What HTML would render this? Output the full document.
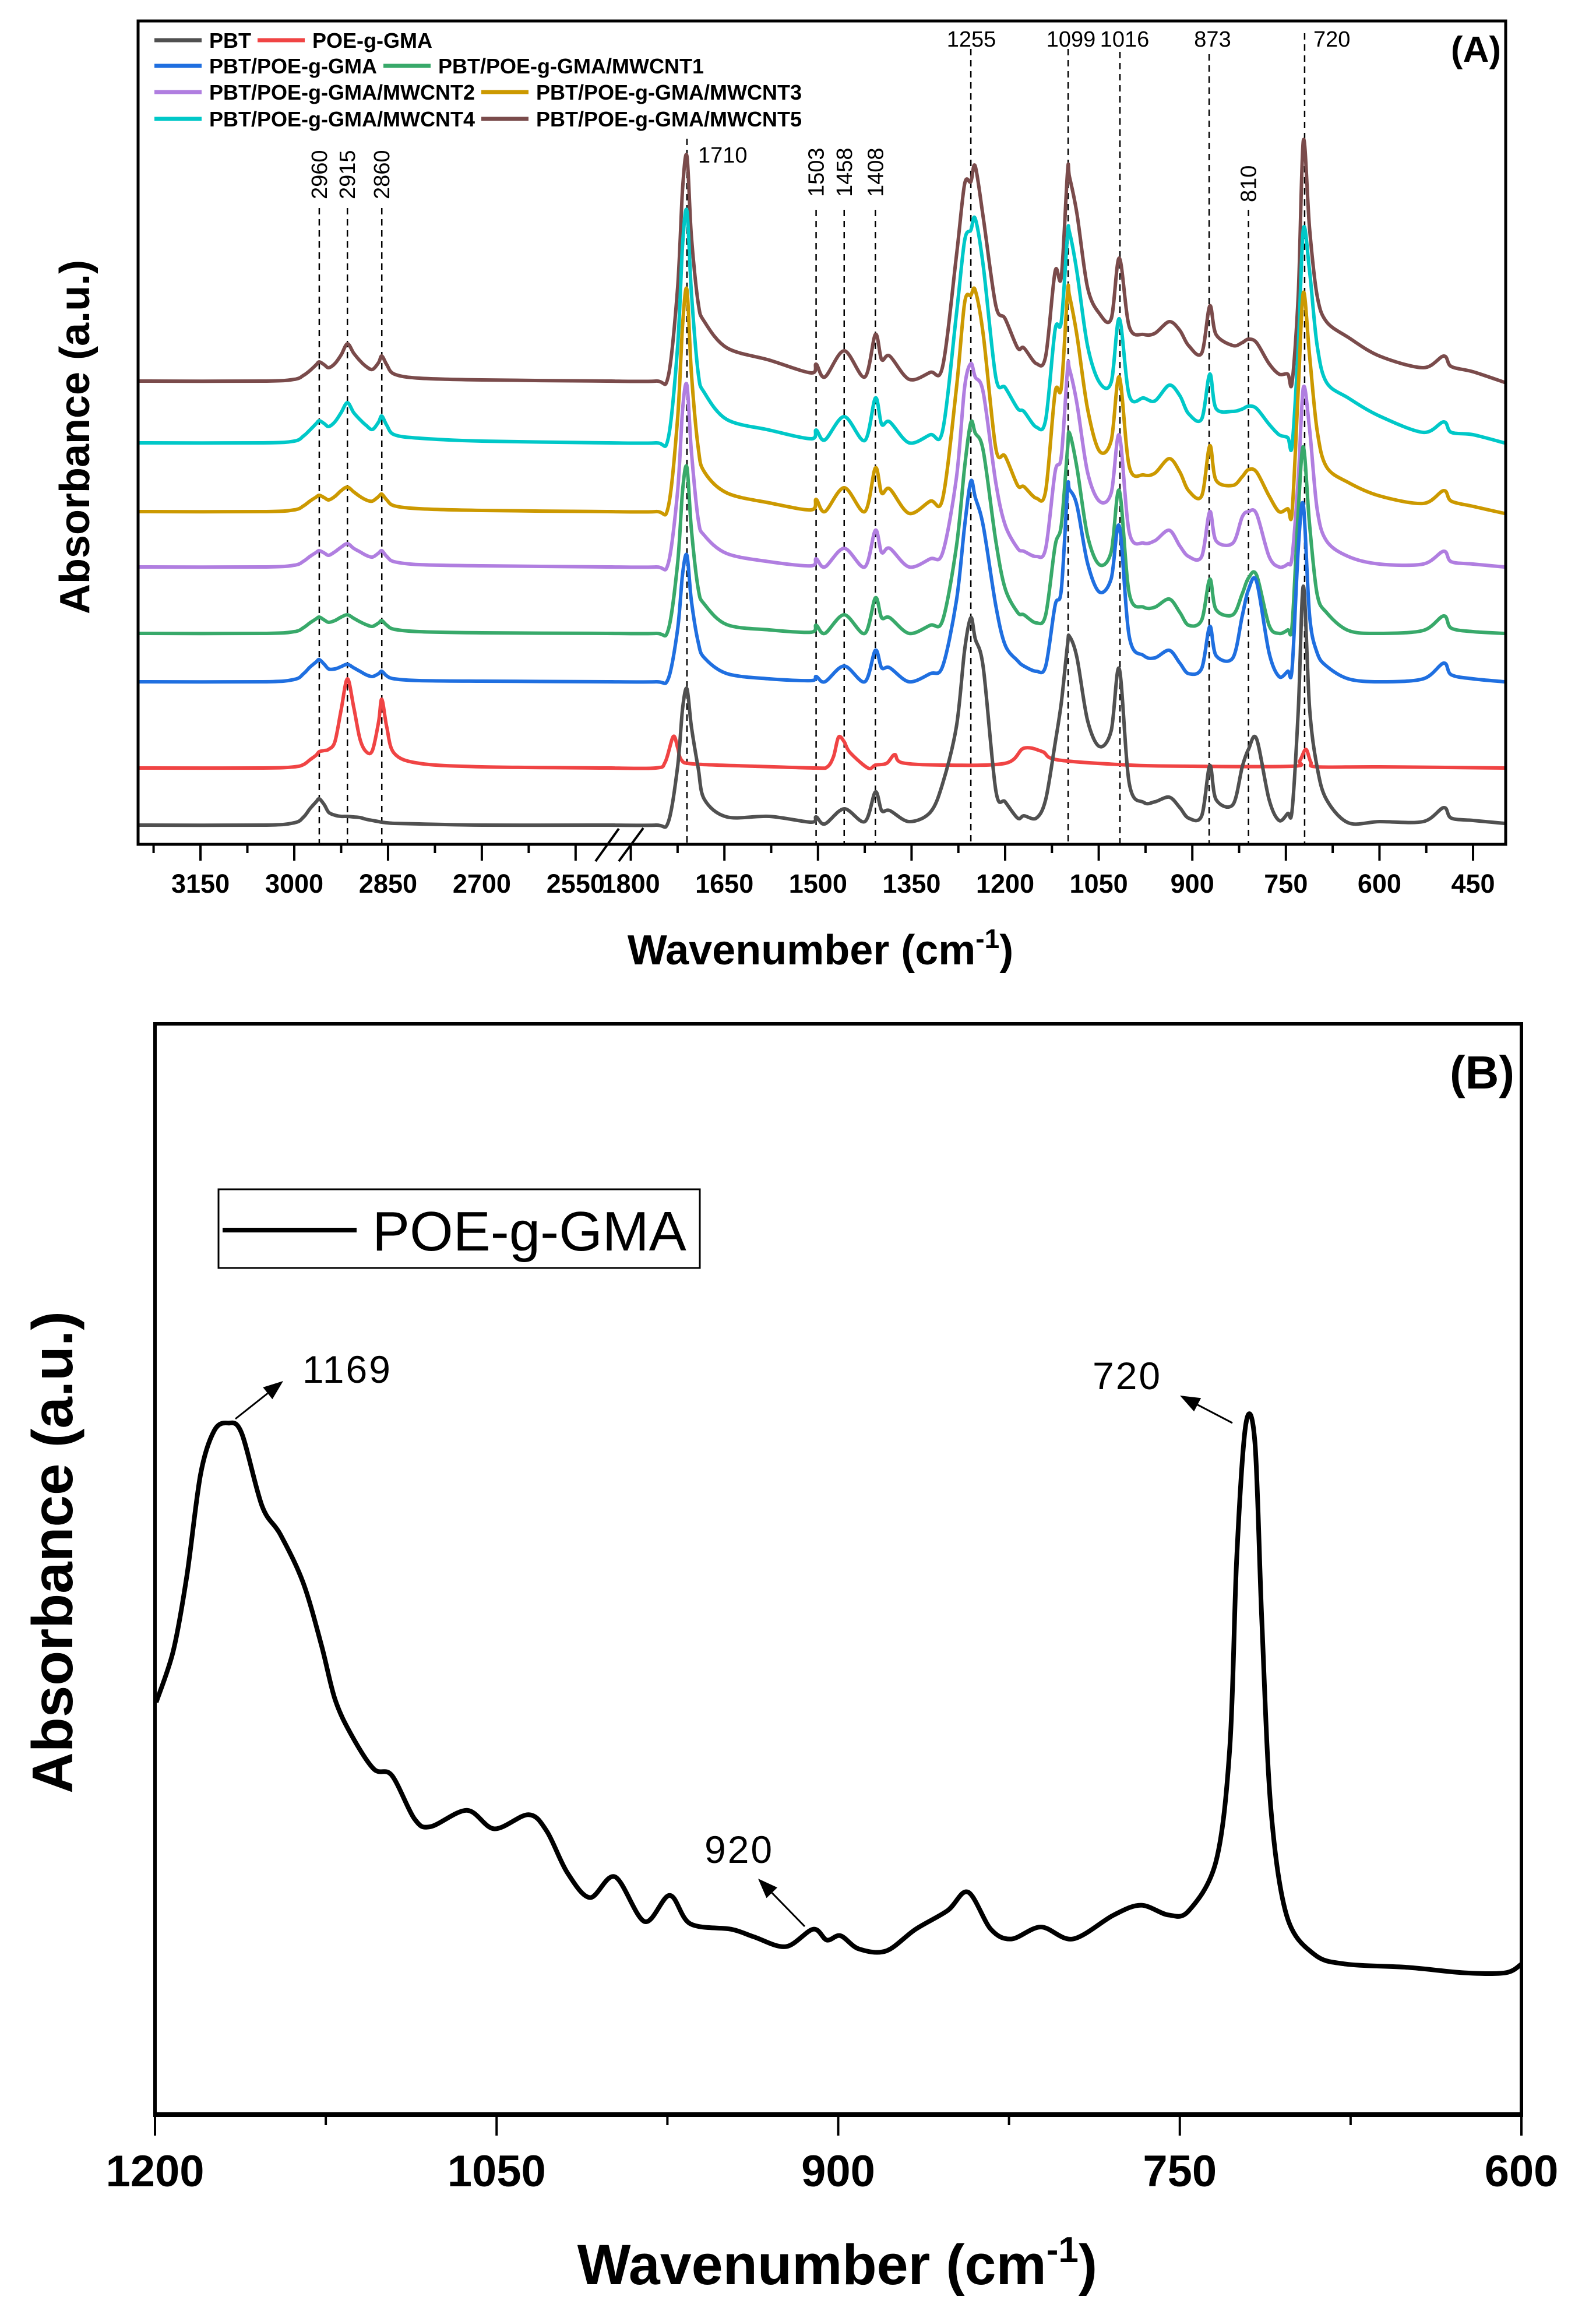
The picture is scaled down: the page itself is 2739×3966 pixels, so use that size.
<!DOCTYPE html>
<html><head><meta charset="utf-8"><style>
html,body{margin:0;padding:0;background:#fff}
svg{display:block}
text{font-family:"Liberation Sans",Arial,sans-serif}
</style></head><body>
<svg id="chart" width="2739" height="3966" viewBox="0 0 2739 3966" xmlns="http://www.w3.org/2000/svg">
<rect width="2739" height="3966" fill="#fff"/>
<g id="panelA"></g>
<g id="panelB"></g>
</svg>
<script>
// ---------- Panel A data ----------
const seriesNames = ["PBT","POE-g-GMA","PBT/POE-g-GMA","PBT/POE-g-GMA/MWCNT1","PBT/POE-g-GMA/MWCNT2","PBT/POE-g-GMA/MWCNT3","PBT/POE-g-GMA/MWCNT4","PBT/POE-g-GMA/MWCNT5"];
const seriesColors = ["#505050","#f04444","#1f6fe0","#38a96a","#b07ee0","#cc9900","#00c8c8","#7a4b4b"];
const leftWaves = [3250,3050,3000,2985,2975,2965,2960,2952,2945,2935,2925,2915,2905,2895,2885,2875,2865,2860,2852,2840,2800,2700,2500];
const rightWaves = [1835,1760,1740,1725,1717,1710,1703,1692,1682,1646,1578,1511,1503,1489,1458,1425,1408,1398,1385,1354,1320,1300,1278,1265,1255,1248,1235,1215,1200,1180,1170,1150,1135,1120,1110,1100,1097,1085,1068,1049,1030,1017,1001,978,960,937,920,906,885,872,862,835,820,810,797,777,761,747,740,730,722,712,700,685,650,600,530,497,485,450,400];
const redRightWaves = [1835,1760,1745,1732,1725,1719,1700,1600,1503,1485,1475,1467,1458,1449,1420,1408,1390,1377,1365,1300,1200,1170,1140,1116,1000,900,740,728,718,710,700,600,400];

const pbtLeft = [0,0,4,14,28,40,45,35,22,17,15,15,14,13,10,8,6,5,4,3,2,0,0];
const pbtRight = [0,0,5,100,200,234,170,98,44,14,15,5,14,2,28,6,57,25,25,6,22,72,170,300,356,320,270,60,40,12,16,12,44,140,210,310,324,288,180,135,162,268,71,39,40,48,30,12,16,102,44,35,100,130,148,44,8,20,26,200,410,200,100,44,4,6,6,30,12,8,3];
const poeLeft = [0,0,2,6,14,22,28,30,32,45,100,153,105,50,28,30,80,118,70,25,8,2,0];
const poeRight = [0,0,10,54,35,14,7,3,0,2,20,53,45,27,0,5,8,23,9,5,8,34,28,14,5,3,3,12,32,10,2,2,0];
const blendLeft = [0,0,4,14,25,34,38,30,22,22,26,30,24,18,12,9,14,18,10,5,2,1,0];
const blendRight = [0,0,5,90,185,217,140,68,41,14,5,2,9,0,27,0,54,24,24,0,14,27,140,267,344,317,267,131,63,36,27,18,27,131,158,330,330,303,204,154,177,267,77,45,41,54,32,14,23,95,45,41,113,158,172,50,9,18,23,231,303,113,50,27,5,0,5,32,12,5,0];
const cnt1Left = [0,0,3,10,18,25,28,23,19,22,28,32,26,20,15,12,18,22,14,7,3,1,0];
const cnt1Right = [0,0,6,120,245,285,180,77,50,15,6,2,14,0,32,0,61,27,27,0,14,23,150,285,362,344,313,159,77,36,32,18,32,150,186,317,344,285,168,118,140,245,68,45,45,59,36,14,23,93,41,32,68,95,100,14,0,6,14,213,320,186,68,36,5,0,5,30,9,3,0];
const cnt2Left = [0,0,3,10,18,25,28,24,20,26,34,40,32,26,20,17,24,28,18,9,4,2,0];
const cnt2Right = [0,0,6,130,270,312,200,82,54,23,9,2,14,0,32,0,63,25,32,0,14,25,154,308,349,326,299,145,72,32,27,18,32,163,190,340,340,281,163,113,127,226,59,41,45,63,36,18,18,95,45,41,86,95,91,18,0,5,18,154,308,236,100,45,18,5,5,27,9,5,0];
const cnt3Left = [0,0,3,10,18,25,28,24,20,26,36,42,34,26,20,18,26,30,20,10,5,2,0];
const cnt3Right = [0,0,8,160,320,381,240,110,68,32,15,3,21,0,41,0,75,32,39,-3,18,23,213,358,371,380,303,109,95,45,43,23,36,204,213,376,371,303,177,104,122,231,77,63,66,91,68,36,27,113,54,45,60,72,68,27,0,5,0,213,376,267,140,77,50,27,14,36,18,9,-3];
const cnt4Left = [0,0,3,12,22,33,38,33,28,36,52,69,52,40,30,23,36,46,30,14,8,3,0];
const cnt4Right = [0,0,8,165,340,398,260,120,86,40,22,7,22,5,45,4,77,32,36,0,14,22,222,347,365,385,303,113,95,59,54,27,40,194,208,357,362,294,167,104,104,213,81,77,72,99,81,50,41,118,59,54,58,63,59,32,14,9,-4,168,367,294,168,104,77,46,18,36,18,14,0];
const cnt5Left = [0,0,3,10,18,28,33,28,23,30,45,64,48,35,25,20,32,43,28,12,5,2,0];
const cnt5Right = [0,0,8,160,330,386,250,134,102,57,36,14,29,7,52,7,80,37,43,3,15,26,216,338,342,369,280,130,107,57,57,30,43,188,179,360,351,288,161,116,107,211,93,80,82,102,87,61,48,129,80,61,66,72,66,30,12,12,-2,152,413,261,147,102,75,43,23,43,25,16,-2];
const seriesOffsets = [0,98,246,329,443,538,656,762]; // vertical stacking offsets (a.u.)
const ticksAMajorLeft = [3150,3000,2850,2700,2550];
const ticksAMinorLeft = [3225,3075,2925,2775,2625];
const ticksAMajorRight = [1800,1650,1500,1350,1200,1050,900,750,600,450];
const ticksAMinorRight = [1725,1575,1425,1275,1125,975,825,675,525];
const markerRot = [2960,2915,2860,1503,1458,1408,810];
const markerHoriz = [1710,1255,1099,1016,873,720];

// ---------- Panel B data ----------
const bWaves = [1199.5,1192,1186,1180,1174,1168,1162,1153,1145,1135,1127,1121,1114,1104,1096,1086,1079,1063,1051,1036,1028,1019,1009,998,985,974,965,947,937,923,911,905,899,891,879,866,852,843,833,824,811,797,779,767,755,746,734,728,725,721,717,714,710,703,691,677,650,625,607,600];
const bAbs = [37.8,42.5,49.4,58.7,62.7,63.4,62.5,55.8,53.2,48.8,43.1,38.1,34.9,31.7,31.1,27.1,26.4,27.9,26.2,27.5,26.0,22.2,19.9,21.8,17.7,20.1,17.5,17.0,16.3,15.4,17.0,16.0,16.4,15.2,15.0,17.0,18.7,20.4,17.0,16.1,17.2,16.1,18.3,19.2,18.3,18.7,23.3,33.8,51.1,63.3,61.6,45.4,28.0,18.2,14.7,13.8,13.5,13.0,13.0,13.8];
const ticksBMajor = [1200,1050,900,750,600];
const ticksBMinor = [1125,975,825,675];

// ---------- helpers ----------
const NS = "http://www.w3.org/2000/svg";
function mk(parent, tag, attrs, txt){
  const el = document.createElementNS(NS, tag);
  for (const k in attrs) el.setAttribute(k, attrs[k]);
  if (txt !== undefined) el.textContent = txt;
  parent.appendChild(el);
  return el;
}
function smoothPath(pts){
  let d = "M" + pts[0][0].toFixed(1) + "," + pts[0][1].toFixed(1);
  for (let i = 0; i < pts.length - 1; i++){
    const p0 = pts[Math.max(0,i-1)], p1 = pts[i], p2 = pts[i+1], p3 = pts[Math.min(pts.length-1,i+2)];
    const t = 0.16;
    const c1x = p1[0] + (p2[0]-p0[0])*t, c1y = p1[1] + (p2[1]-p0[1])*t;
    const c2x = p2[0] - (p3[0]-p1[0])*t, c2y = p2[1] - (p3[1]-p1[1])*t;
    d += " C" + c1x.toFixed(1) + "," + c1y.toFixed(1) + " " + c2x.toFixed(1) + "," + c2y.toFixed(1) + " " + p2[0].toFixed(1) + "," + p2[1].toFixed(1);
  }
  return d;
}

// ---------- Panel A ----------
const A = {L:237, R:2584, T:36, B:1449, base:1416};
function xA(w){ return w >= 2200 ? 505 + (3000 - w) * 1.073 : 1725 + (1200 - w) * 1.0707; }
function yA(h, off){ return A.base - off - h; }
const gA = document.getElementById("panelA");

const markerTops = {2960:357,2915:357,2860:357,1710:238,1503:360,1458:360,1408:360,1255:84,1099:84,1016:89,873:93,810:360,720:57};
[...markerRot, ...markerHoriz].forEach(w => {
  const l = mk(gA, "line", {x1:xA(w), x2:xA(w), y1:markerTops[w], y2:A.B, stroke:"#000", "stroke-width":2.5, "stroke-dasharray":"11,8"});
  
  
});
markerRot.forEach(w => {
  const by = (w === 810) ? 347 : (w > 2500 ? 342 : 338);
  const t = mk(gA, "text", {x:0, y:0, transform:"translate(" + (xA(w)+13) + "," + by + ") rotate(-90)", "font-size":38, fill:"#000"}, String(w));
  
  
});
const horizPos = {1710:[1198,279,"start"],1255:[1667,80,"middle"],1099:[1838,80,"middle"],1016:[1930,80,"middle"],873:[2081,80,"middle"],720:[2254,80,"start"]};
markerHoriz.forEach(w => {
  const p = horizPos[w];
  const t = mk(gA, "text", {x:p[0], y:p[1], "font-size":38, "text-anchor":p[2], fill:"#000"}, String(w));
  
  
});

const leftData = [pbtLeft, poeLeft, blendLeft, cnt1Left, cnt2Left, cnt3Left, cnt4Left, cnt5Left];
const rightData = [pbtRight, poeRight, blendRight, cnt1Right, cnt2Right, cnt3Right, cnt4Right, cnt5Right];
const clip = mk(gA, "clipPath", {id:"clipA"});
mk(clip, "rect", {x:A.L, y:A.T, width:A.R-A.L, height:A.B-A.T});
const seriesG = mk(gA, "g", {"clip-path":"url(#clipA)"});
for (let s = 7; s >= 0; s--){
  const rw = (s === 1) ? redRightWaves : rightWaves;
  const pts = [];
  leftWaves.forEach((w,i) => pts.push([xA(w), yA(leftData[s][i], seriesOffsets[s])]));
  rw.forEach((w,i) => pts.push([xA(w), yA(rightData[s][i], seriesOffsets[s])]));
  const p = mk(seriesG, "path", {d:smoothPath(pts), fill:"none", stroke:seriesColors[s], "stroke-width":6, "stroke-linejoin":"round", "stroke-linecap":"round"});
  
  
}

const frA = mk(gA, "rect", {x:A.L, y:A.T, width:A.R-A.L, height:A.B-A.T, fill:"none", stroke:"#000", "stroke-width":5});


[...ticksAMajorLeft, ...ticksAMajorRight].forEach(w => {
  const l = mk(gA, "line", {x1:xA(w), x2:xA(w), y1:A.B, y2:A.B+28, stroke:"#000", "stroke-width":4});
  
  
  const t = mk(gA, "text", {x:xA(w), y:1532, "font-size":45, "font-weight":"bold", "text-anchor":"middle"}, String(w));
  
  
});
[...ticksAMinorLeft, ...ticksAMinorRight].forEach(w => {
  const l = mk(gA, "line", {x1:xA(w), x2:xA(w), y1:A.B, y2:A.B+15, stroke:"#000", "stroke-width":4});
  
  
});
const br1 = mk(gA, "line", {x1:1062, y1:1422, x2:1022, y2:1478, stroke:"#000", "stroke-width":4});


const br2 = mk(gA, "line", {x1:1104, y1:1421, x2:1062, y2:1478, stroke:"#000", "stroke-width":4});



const xtA = mk(gA, "text", {x:1408, y:1655, "font-size":72, "font-weight":"bold", "text-anchor":"middle"});


mk(xtA, "tspan", {}, "Wavenumber (cm");
mk(xtA, "tspan", {dy:-28, "font-size":46}, "-1");
mk(xtA, "tspan", {dy:28}, ")");
const ytA = mk(gA, "text", {x:0, y:0, transform:"translate(153,750) rotate(-90)", "font-size":72, "font-weight":"bold", "text-anchor":"middle"}, "Absorbance (a.u.)");


const lblA = mk(gA, "text", {x:2576, y:106, "font-size":62, "font-weight":"bold", "text-anchor":"end"}, "(A)");



const legPos = [[265,69],[442,69],[265,113],[658,113],[265,158],[826,158],[265,204],[826,204]];
const legG = mk(gA, "g", {});


seriesNames.forEach((n,i) => {
  const [lx,ly] = legPos[i];
  const g = mk(legG, "g", {});
  
  
  mk(g, "line", {x1:lx, x2:lx+81, y1:ly, y2:ly, stroke:seriesColors[i], "stroke-width":7});
  mk(g, "text", {x:lx+94, y:ly+13, "font-size":36, "font-weight":"bold"}, n);
});

// ---------- Panel B ----------
const B = {L:266, R:2611, T:1757, Bt:3629};
function xB(w){ return B.L + (1200 - w) * (B.R - B.L) / 600; }
function yB(a){ return B.Bt - a * 18.72; }
const gB = document.getElementById("panelB");
const ptsB = bWaves.map((w,i) => [xB(w), yB(bAbs[i])]);
const pB = mk(gB, "path", {d:smoothPath(ptsB), fill:"none", stroke:"#000", "stroke-width":8, "stroke-linejoin":"round"});


const frB = mk(gB, "rect", {x:B.L, y:B.T, width:B.R-B.L, height:B.Bt-B.T, fill:"none", stroke:"#000", "stroke-width":6});


const bax = mk(gB, "line", {x1:B.L-3, x2:B.R+3, y1:B.Bt, y2:B.Bt, stroke:"#000", "stroke-width":8});


ticksBMajor.forEach(w => {
  const l = mk(gB, "line", {x1:xB(w), x2:xB(w), y1:B.Bt, y2:B.Bt+36, stroke:"#000", "stroke-width":4});
  
  
  const t = mk(gB, "text", {x:xB(w), y:3752, "font-size":76, "font-weight":"bold", "text-anchor":"middle"}, String(w));
  
  
});
ticksBMinor.forEach(w => {
  const l = mk(gB, "line", {x1:xB(w), x2:xB(w), y1:B.Bt, y2:B.Bt+18, stroke:"#000", "stroke-width":4});
  
  
});
const xtB = mk(gB, "text", {x:1437, y:3920, "font-size":97, "font-weight":"bold", "text-anchor":"middle"});


mk(xtB, "tspan", {}, "Wavenumber (cm");
mk(xtB, "tspan", {dy:-38, "font-size":62}, "-1");
mk(xtB, "tspan", {dy:38}, ")");
const ytB = mk(gB, "text", {x:0, y:0, transform:"translate(124,2664) rotate(-90)", "font-size":98, "font-weight":"bold", "text-anchor":"middle"}, "Absorbance (a.u.)");


const lblB = mk(gB, "text", {x:2599, y:1868, "font-size":80, "font-weight":"bold", "text-anchor":"end"}, "(B)");


const legB = mk(gB, "g", {});


mk(legB, "rect", {x:375, y:2041, width:826, height:135, fill:"#fff", stroke:"#000", "stroke-width":3});
mk(legB, "line", {x1:382, x2:612, y1:2111, y2:2111, stroke:"#000", "stroke-width":8});
mk(legB, "text", {x:639, y:2146, "font-size":96}, "POE-g-GMA");
function arrow(x1,y1,x2,y2,name){
  const g = mk(gB, "g", {});
  
  
  const dx = x2-x1, dy = y2-y1, L = Math.hypot(dx,dy), ux = dx/L, uy = dy/L;
  const hl = 34, hw = 13;
  const bx = x2 - ux*hl, by = y2 - uy*hl;
  mk(g, "line", {x1:x1, y1:y1, x2:bx, y2:by, stroke:"#000", "stroke-width":3});
  mk(g, "polygon", {points: x2+","+y2+" "+(bx-uy*hw)+","+(by+ux*hw)+" "+(bx+uy*hw)+","+(by-ux*hw), fill:"#000"});
}
arrow(404,2435,486,2370,'arrow-1169');
arrow(1381,3306,1301,3224,'arrow-920');
arrow(2115,2442,2025,2395,'arrow-720');
[["1169",519,2373],["920",1209,3197],["720",1875,2384]].forEach(a => {
  const t = mk(gB, "text", {x:a[1], y:a[2], "font-size":66, "letter-spacing":"3"}, a[0]);
  
  
});
</script>
</body></html>
